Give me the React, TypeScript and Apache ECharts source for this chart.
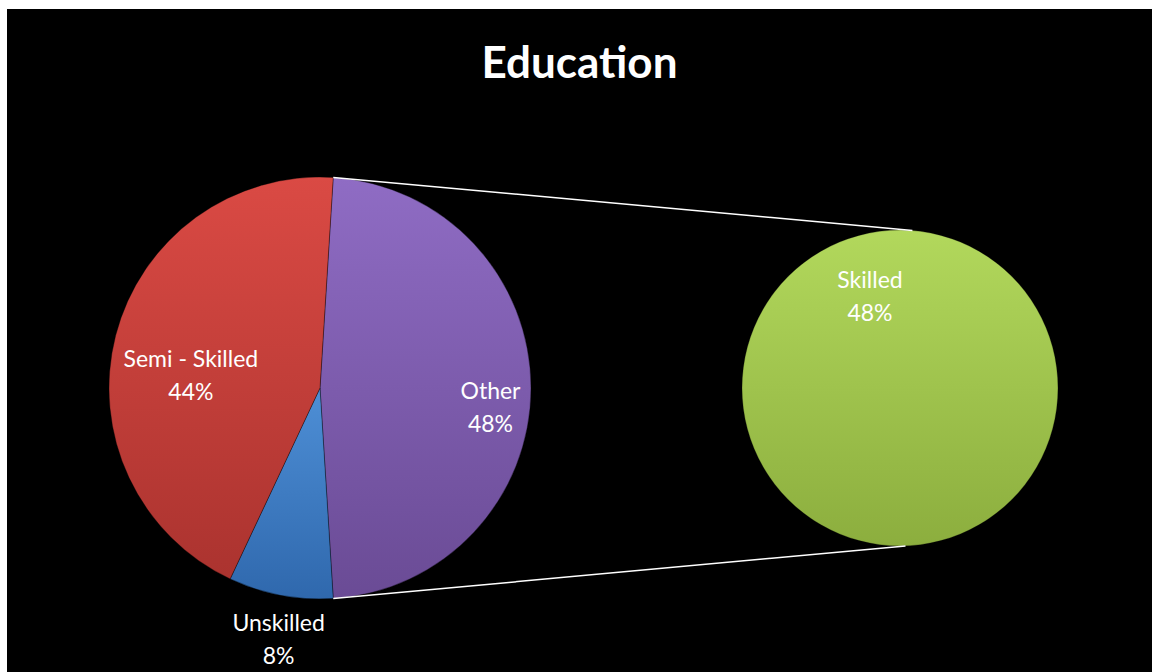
import React, { useEffect, useRef } from "react";
import * as echarts from "echarts";

const title = "Education";
const mainCategories = ["Other", "Unskilled", "Semi - Skilled"];
const mainValues = [48, 8, 44];
const secondaryCategories = ["Skilled"];
const secondaryValues = [48];

const FONT = "Lato, 'Noto Sans', sans-serif";

function grad(top: string, bottom: string) {
  return new echarts.graphic.LinearGradient(0, 0, 0, 1, [
    { offset: 0, color: top },
    { offset: 1, color: bottom },
  ]);
}

export default function App() {
  const ref = useRef<HTMLDivElement>(null);
  useEffect(() => {
    if (!ref.current) return;
    const chart = echarts.init(ref.current, null, { renderer: "svg" });

    const leftC = [313, 379];
    const leftR = 211;
    const rightC = [893, 379];
    const rightR = 158;

    const total = mainValues.reduce((a, b) => a + b, 0);
    const otherSpan = (mainValues[0] / total) * 360;
    const start = otherSpan / 2; // "Other" centred at 3 o'clock
    const rad = (d: number) => (d * Math.PI) / 180;
    const p1 = [leftC[0] + leftR * Math.cos(rad(start)), leftC[1] - leftR * Math.sin(rad(start))];
    const p2 = [leftC[0] + leftR * Math.cos(rad(-start)), leftC[1] - leftR * Math.sin(rad(-start))];
    const q1 = [rightC[0] + rightR * Math.cos(rad(85.5)), rightC[1] - rightR * Math.sin(rad(85.5))];
    const q2 = [rightC[0] + rightR * Math.cos(rad(-88)), rightC[1] - rightR * Math.sin(rad(-88))];

    const mainColors = [
      grad("#8f6cc4", "#6a4b95"),
      grad("#4e8fd6", "#2f68ad"),
      grad("#da4a44", "#ab332f"),
    ];
    const mainOffsets = [
      [62, 18],
      [-21, 144],
      [-24, 13],
    ];

    const labelStyle = {
      color: "#ffffff",
      fontFamily: FONT,
      fontSize: 23,
      lineHeight: 33,
      align: "center",
      formatter: (p: any) => `${p.name}\n${p.value}%`,
    };

    chart.setOption({
      animation: false,
      backgroundColor: "#000000",
      title: {
        text: title,
        left: "center",
        top: 25,
        textStyle: { color: "#ffffff", fontFamily: FONT, fontWeight: "bold", fontSize: 44 },
      },
      graphic: [
        {
          type: "line",
          shape: { x1: p1[0], y1: p1[1], x2: q1[0], y2: q1[1] },
          style: { stroke: "#ffffff", lineWidth: 1.5 },
          z: 10,
        },
        {
          type: "line",
          shape: { x1: p2[0], y1: p2[1], x2: q2[0], y2: q2[1] },
          style: { stroke: "#ffffff", lineWidth: 1.5 },
          z: 10,
        },
      ],
      series: [
        {
          type: "pie",
          center: leftC,
          radius: leftR,
          startAngle: start,
          clockwise: true,
          label: { show: true, position: "inside", ...labelStyle },
          labelLine: { show: false },
          itemStyle: { borderColor: "rgba(0,0,0,0.35)", borderWidth: 1 },
          data: mainCategories.map((name, i) => ({
            name,
            value: mainValues[i],
            itemStyle: { color: mainColors[i] },
            label: { offset: mainOffsets[i] },
          })),
        },
        {
          type: "pie",
          center: rightC,
          radius: rightR,
          startAngle: 90,
          label: { show: true, position: "center", offset: [-30, -93], ...labelStyle },
          labelLine: { show: false },
          itemStyle: { borderColor: "rgba(0,0,0,0.25)", borderWidth: 1 },
          data: secondaryCategories.map((name, i) => ({
            name,
            value: secondaryValues[i],
            itemStyle: { color: grad("#b2d85c", "#8cae3e") },
          })),
        },
      ],
    });
    return () => chart.dispose();
  }, []);
  return (
    <div
      ref={ref}
      style={{ position: "fixed", left: 7, top: 9, width: 1145, height: 663 }}
    />
  );
}
